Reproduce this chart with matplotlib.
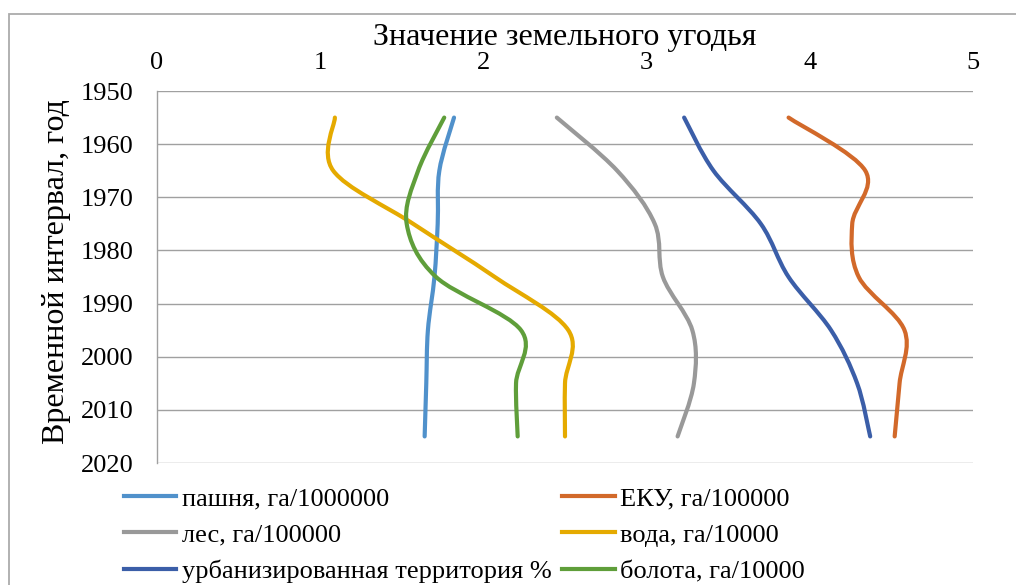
import numpy as np
import matplotlib.pyplot as plt
from matplotlib.path import Path
from matplotlib.patches import PathPatch, Rectangle
from matplotlib.lines import Line2D

plt.rcParams['font.family'] = 'Liberation Serif'

years = [1955, 1965, 1975, 1985, 1995, 2005, 2015]

# values
pashnya = [1.82, 1.73, 1.72, 1.70, 1.66, 1.65, 1.64]
eku = [3.87, 4.34, 4.26, 4.30, 4.58, 4.55, 4.52]
les = [2.45, 2.82, 3.05, 3.10, 3.28, 3.29, 3.19]
voda = [1.09, 1.08, 1.57, 2.07, 2.52, 2.50, 2.50]
urban = [3.23, 3.41, 3.70, 3.87, 4.13, 4.29, 4.37]
bolota = [1.76, 1.60, 1.53, 1.71, 2.23, 2.20, 2.21]

labels = ['пашня, га/1000000', 'ЕКУ, га/100000', 'лес, га/100000',
          'вода, га/10000', 'урбанизированная территория %', 'болота, га/10000']
series = [pashnya, eku, les, voda, urban, bolota]
colors = ['#5091CB', '#D2692A', '#999999', '#E5AA00', '#3B5EA8', '#5F9E3A']


def smooth_path(xs, ys):
    # excel-style smoothed line (catmull-rom as cubic bezier)
    p = np.column_stack([xs, ys]).astype(float)
    n = len(p)
    verts = [p[0]]
    codes = [Path.MOVETO]
    for i in range(n - 1):
        p0 = p[i - 1] if i > 0 else p[i]
        p3 = p[i + 2] if i + 2 < n else p[i + 1]
        c1 = p[i] + (p[i + 1] - p0) / 6
        c2 = p[i + 1] - (p3 - p[i]) / 6
        verts += [c1, c2, p[i + 1]]
        codes += [Path.CURVE4] * 3
    return Path(verts, codes)


fig = plt.figure(figsize=(10.16, 5.85), dpi=100)
fig.patches.append(Rectangle((8.5 / 1016, -0.2), 1.2, 1.2 - 14 / 585,
                             transform=fig.transFigure, fill=False,
                             edgecolor='#ABABAB', lw=1.3))

ax = fig.add_axes([157 / 1016, 1 - 463 / 585, (973 - 157) / 1016, (463 - 91) / 585])

for vals, c in zip(series, colors):
    ax.add_patch(PathPatch(smooth_path(vals, years), fill=False, edgecolor=c,
                           lw=3, capstyle='round', zorder=3))

ax.set_xlim(0, 5)
ax.set_ylim(2020, 1950)
ax.set_yticks(range(1950, 2021, 10))
ax.set_xticks(range(0, 6))
ax.xaxis.tick_top()
ax.tick_params(length=0, labelsize=19)
ax.tick_params(axis='y', pad=17)
ax.tick_params(axis='x', pad=12)
ax.grid(axis='y', color='#A0A0A0', lw=1)
ax.set_axisbelow(True)
for s in ['top', 'right', 'bottom']:
    ax.spines[s].set_visible(False)
ax.spines['left'].set_color('#A0A0A0')
ax.spines['left'].set_linewidth(1)

fig.text(565 / 1016, 1 - 38 / 585, 'Значение земельного угодья', ha='center',
         va='center', fontsize=23)
fig.text(57 / 1016, 1 - 272 / 585, 'Временной интервал, год', ha='center',
         va='center', rotation=90, fontsize=23)

handles = [Line2D([], [], color=c, lw=3) for c in colors]
order = [0, 2, 4, 1, 3, 5]
fig.legend([handles[i] for i in order], [labels[i] for i in order], ncol=2,
           loc='upper left', bbox_to_anchor=(113 / 1016, 1 - 476 / 585),
           frameon=False, fontsize=19, handlelength=2.0, handletextpad=0.2,
           labelspacing=0.5, columnspacing=0.4, borderaxespad=0)

fig.savefig('out.png', dpi=100)
